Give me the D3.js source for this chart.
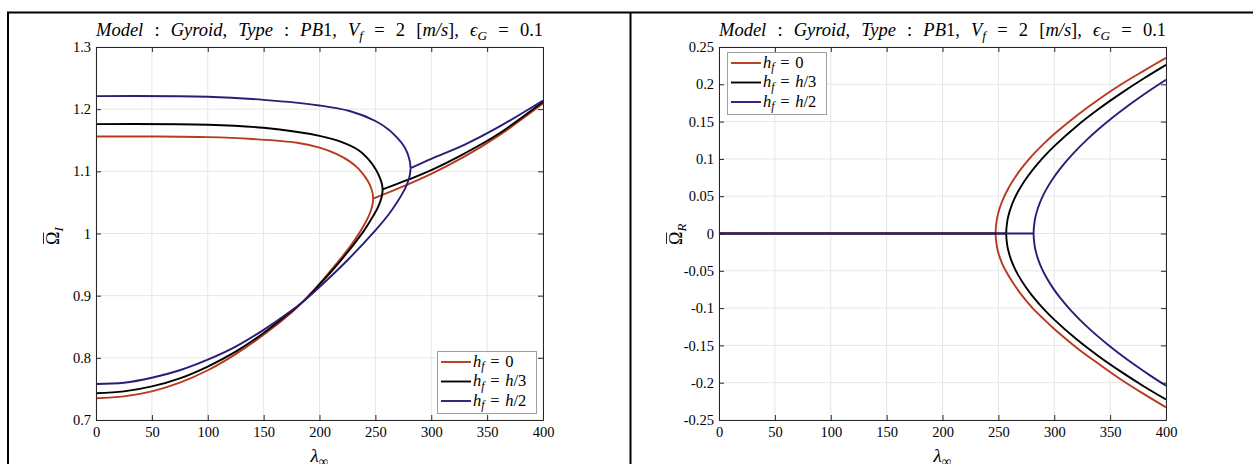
<!DOCTYPE html>
<html>
<head>
<meta charset="utf-8">
<script src="https://cdn.jsdelivr.net/npm/d3@7"></script>
<style>
  body { margin: 0; background: #fff; }
</style>
</head>
<body>
<div id="app"></div>
<script>
// chart values

const lambdaTicks = [0, 50, 100, 150, 200, 250, 300, 350, 400];
const omegaITicks = [0.7, 0.8, 0.9, 1, 1.1, 1.2, 1.3];
const omegaRTicks = [-0.25, -0.2, -0.15, -0.1, -0.05, 0, 0.05, 0.1, 0.15, 0.2, 0.25];

const seriesLabels = ['0', 'h/3', 'h/2'];
const seriesColors = ['#b83a1d', '#000000', '#2a1d78'];

// imaginary part, [lambda, omega]
const redUpperI = [[0,1.156],[50,1.156],[100,1.155],[140,1.152],[180,1.146],[200,1.138],[215,1.128],[227,1.116],[235,1.104],[240,1.093],[244,1.082],[246,1.074],[247.5,1.065],[248,1.056]];
const redLowerI = [[0,0.735],[25,0.738],[50,0.746],[75,0.760],[100,0.780],[125,0.806],[150,0.837],[175,0.873],[185,0.89],[200,0.919],[215,0.951],[227,0.978],[235,0.999],[240,1.014],[244,1.028],[246,1.037],[247.5,1.047],[248,1.056]];
const redMergedI = [[248,1.056],[270,1.072],[300,1.096],[330,1.124],[360,1.157],[400,1.209]];

const blackUpperI = [[0,1.176],[100,1.175],[150,1.170],[200,1.157],[220,1.147],[235,1.134],[245,1.117],[250,1.104],[253,1.094],[255,1.085],[256,1.078],[256.5,1.071]];
const blackLowerI = [[0,0.743],[25,0.746],[50,0.754],[75,0.767],[100,0.786],[125,0.810],[150,0.840],[175,0.875],[185,0.89],[200,0.918],[215,0.948],[230,0.981],[240,1.005],[248,1.028],[252,1.041],[254.5,1.052],[256,1.062],[256.5,1.071]];
const blackMergedI = [[256.5,1.071],[280,1.087],[300,1.102],[330,1.129],[360,1.16],[400,1.212]];

const blueUpperI = [[0,1.221],[100,1.220],[150,1.215],[200,1.206],[227,1.197],[250,1.181],[262,1.167],[270,1.153],[275,1.142],[278,1.132],[280,1.122],[281,1.114],[281.5,1.105]];
const blueLowerI = [[0,0.758],[25,0.760],[50,0.768],[75,0.780],[100,0.797],[125,0.818],[150,0.845],[175,0.876],[185,0.89],[200,0.914],[225,0.957],[250,1.005],[262,1.031],[270,1.052],[275,1.067],[278,1.078],[280,1.088],[281,1.096],[281.5,1.105]];
const blueMergedI = [[281.5,1.105],[300,1.12],[330,1.143],[360,1.171],[400,1.214]];

// real part, upper and lower branch from the split point
const redPosR = [[247.5,0],[248.5,0.0176],[249.5,0.025],[251.5,0.0355],[254.5,0.0472],[258.5,0.0594],[263.5,0.072],[270,0.0859],[280,0.1039],[290,0.1195],[300,0.1334],[320,0.158],[340,0.180],[360,0.2],[380,0.218],[400,0.2355]];
const redNegR = [[247.5,0],[248.5,-0.016],[249.5,-0.023],[251.5,-0.033],[254.5,-0.044],[258.5,-0.055],[263.5,-0.067],[270,-0.081],[280,-0.099],[290,-0.114],[300,-0.128],[320,-0.153],[340,-0.175],[360,-0.196],[380,-0.215],[400,-0.233]];
const blackPosR = [[257,0],[258,0.0168],[259,0.0239],[261,0.034],[264,0.0453],[268,0.0572],[274,0.0717],[280,0.084],[290,0.1017],[300,0.1171],[320,0.1439],[340,0.1672],[360,0.1882],[380,0.2077],[400,0.226]];
const blackNegR = [[257,0],[258,-0.0166],[259,-0.0236],[261,-0.0336],[264,-0.0447],[268,-0.0565],[274,-0.0708],[280,-0.0829],[290,-0.1003],[300,-0.1154],[320,-0.1418],[340,-0.1648],[360,-0.1855],[380,-0.2047],[400,-0.2225]];
const bluePosR = [[281.5,0],[282.5,0.0171],[283.5,0.0243],[285.5,0.0345],[288.5,0.046],[292.5,0.0581],[298,0.0717],[305,0.0863],[315,0.1041],[330,0.1268],[350,0.1527],[370,0.1755],[385,0.1913],[400,0.2061]];
const blueNegR = [[281.5,0],[282.5,-0.0171],[283.5,-0.0242],[285.5,-0.0343],[288.5,-0.0457],[292.5,-0.0577],[298,-0.0712],[305,-0.0857],[315,-0.1033],[330,-0.1258],[350,-0.1514],[370,-0.174],[385,-0.1895],[400,-0.2041]];

const imagCurves = [
  [redUpperI, redLowerI, redMergedI],
  [blackUpperI, blackLowerI, blackMergedI],
  [blueUpperI, blueLowerI, blueMergedI]
];
const realCurves = [
  [redPosR, redNegR],
  [blackPosR, blackNegR],
  [bluePosR, blueNegR]
];

const FONT = '"Liberation Serif"';
const W = 1253, H = 464;
const svg = d3.select('#app').append('svg')
  .attr('width', W).attr('height', H);

// outer figure frame
svg.append('path')
  .attr('d', 'M8,470 L8,12.5 L1260,12.5 M630.5,12.5 L630.5,470')
  .attr('fill', 'none').attr('stroke', '#000').attr('stroke-width', 2);

// math-ish text: parts = [text, italic?, sub?]
function mathText(sel, parts, size) {
  let shifted = false;
  sel.style('font-family', FONT);
  parts.forEach(p => {
    const ts = sel.append('tspan').text(p[0]);
    if (p[1]) ts.attr('font-style', 'italic');
    if (p[2] && !shifted) { ts.attr('dy', size * 0.22).attr('font-size', size * 0.72); shifted = true; }
    else if (p[2]) { ts.attr('font-size', size * 0.72); }
    else if (shifted) { ts.attr('dy', -size * 0.22); shifted = false; }
  });
  return sel;
}

const titleParts = [
  ['Model', true], [' : '], ['Gyroid', true], [', '], ['Type', true], [' : '], ['PB', true], ['1'], [', '],
  ['V', true], ['f', true, true], [' = 2 ['], ['m/s', true], ['], '], ['\u03F5', true], ['G', true, true], [' = 0.1']
];

function drawPanel(opt) {
  const x = d3.scaleLinear().domain([0, 400]).range([opt.left, opt.right]);
  const y = d3.scaleLinear().domain(opt.yDomain).range([420, 47]);
  const g = svg.append('g');

  // grid
  g.append('g').selectAll('line').data(lambdaTicks).enter().append('line')
    .attr('x1', d => x(d)).attr('x2', d => x(d)).attr('y1', 47).attr('y2', 420)
    .attr('stroke', '#e6e6e6').attr('stroke-width', 1);
  g.append('g').selectAll('line').data(opt.yTicks).enter().append('line')
    .attr('x1', opt.left).attr('x2', opt.right).attr('y1', d => y(d)).attr('y2', d => y(d))
    .attr('stroke', '#e6e6e6').attr('stroke-width', 1);

  // curves
  const line = d3.line().x(d => x(d[0])).y(d => y(d[1])).curve(d3.curveCatmullRom.alpha(0.5));
  opt.curves.forEach((set, i) => {
    set.forEach(pts => {
      g.append('path').attr('d', line(pts)).attr('fill', 'none')
        .attr('stroke', seriesColors[i]).attr('stroke-width', 1.9)
        .attr('stroke-linejoin', 'round');
    });
  });

  // axes (ticks inward on all sides)
  const fmt = d => String(+d.toFixed(2));
  const styleAxis = a => {
    a.attr('font-family', null).attr('font-size', null).attr('fill', null);
    a.selectAll('path.domain').attr('stroke', '#262626').attr('stroke-width', 1).attr('fill', 'none');
    a.selectAll('.tick line').attr('stroke', '#262626');
    a.selectAll('text').style('font-family', FONT).attr('font-size', 14.5).attr('fill', null);
  };
  styleAxis(g.append('g').attr('transform', `translate(0,420)`)
    .call(d3.axisBottom(x).tickValues(lambdaTicks).tickFormat(fmt).tickSizeInner(-5).tickSizeOuter(0).tickPadding(7)));
  styleAxis(g.append('g').attr('transform', `translate(0,47)`)
    .call(d3.axisTop(x).tickValues(lambdaTicks).tickFormat('').tickSizeInner(-5).tickSizeOuter(0)));
  styleAxis(g.append('g').attr('transform', `translate(${opt.left},0)`)
    .call(d3.axisLeft(y).tickValues(opt.yTicks).tickFormat(fmt).tickSizeInner(-5).tickSizeOuter(0).tickPadding(5)));
  styleAxis(g.append('g').attr('transform', `translate(${opt.right},0)`)
    .call(d3.axisRight(y).tickValues(opt.yTicks).tickFormat('').tickSizeInner(-5).tickSizeOuter(0)));

  // title, spread over the axes width by widening the spaces
  const title = mathText(g.append('text').attr('x', opt.left).attr('y', 36).attr('font-size', 18.5), titleParts, 18.5);
  const natural = title.node().getComputedTextLength();
  const nSpaces = titleParts.map(p => p[0]).join('').split(' ').length - 1;
  if (natural < opt.right - opt.left) {
    title.style('word-spacing', ((opt.right - opt.left - natural) / nSpaces) + 'px');
  }

  // x label
  const cx = (opt.left + opt.right) / 2;
  mathText(g.append('text').attr('x', cx).attr('y', 462).attr('font-size', 19).attr('text-anchor', 'middle'),
    [['\u03BB', true], ['\u221E', false, true]], 19);

  // y label
  const yl = g.append('g').attr('transform', `translate(${opt.yLabelX},236) rotate(-90)`);
  mathText(yl.append('text').attr('x', -9).attr('y', 6).attr('font-size', 18),
    [['\u03A9'], [opt.ySub, true, true]], 18);
  yl.append('line').attr('x1', -8).attr('x2', 3.5).attr('y1', -9.5).attr('y2', -9.5)
    .attr('stroke', '#262626').attr('stroke-width', 1);

  // legend
  const lg = g.append('g').attr('transform', `translate(${opt.legend[0]},${opt.legend[1]})`);
  lg.append('rect').attr('x', 0.5).attr('y', 0.5).attr('width', 99).attr('height', 62)
    .attr('fill', '#fff').attr('stroke', '#a0a0a0').attr('stroke-width', 1);
  seriesLabels.forEach((lab, i) => {
    const ly = 11 + i * 19.5;
    lg.append('line').attr('x1', 4).attr('x2', 34).attr('y1', ly).attr('y2', ly)
      .attr('stroke', seriesColors[i]).attr('stroke-width', 1.9);
    const parts = [['h', true], ['f', true, true], [' = ']];
    if (lab === '0') parts.push(['0']);
    else parts.push(['h', true], [lab.slice(1)]);
    mathText(lg.append('text').attr('x', 36).attr('y', ly + 4.5).attr('font-size', 16.5)
      .style('word-spacing', '1.5px'), parts, 16.5);
  });
}

drawPanel({
  left: 96, right: 543, yDomain: [0.7, 1.3], yTicks: omegaITicks,
  curves: imagCurves, ySub: 'I', yLabelX: 53, legend: [437, 351]
});

// real part: zero segment before the split, then the C-shaped branch
const realPaths = realCurves.map(([pos, neg]) => [
  [[0, 0], [pos[0][0], 0]],
  neg.slice().reverse().concat(pos.slice(1))
]);
drawPanel({
  left: 719, right: 1166, yDomain: [-0.25, 0.25], yTicks: omegaRTicks,
  curves: realPaths, ySub: 'R', yLabelX: 676, legend: [727, 52]
});
</script>
</body>
</html>
